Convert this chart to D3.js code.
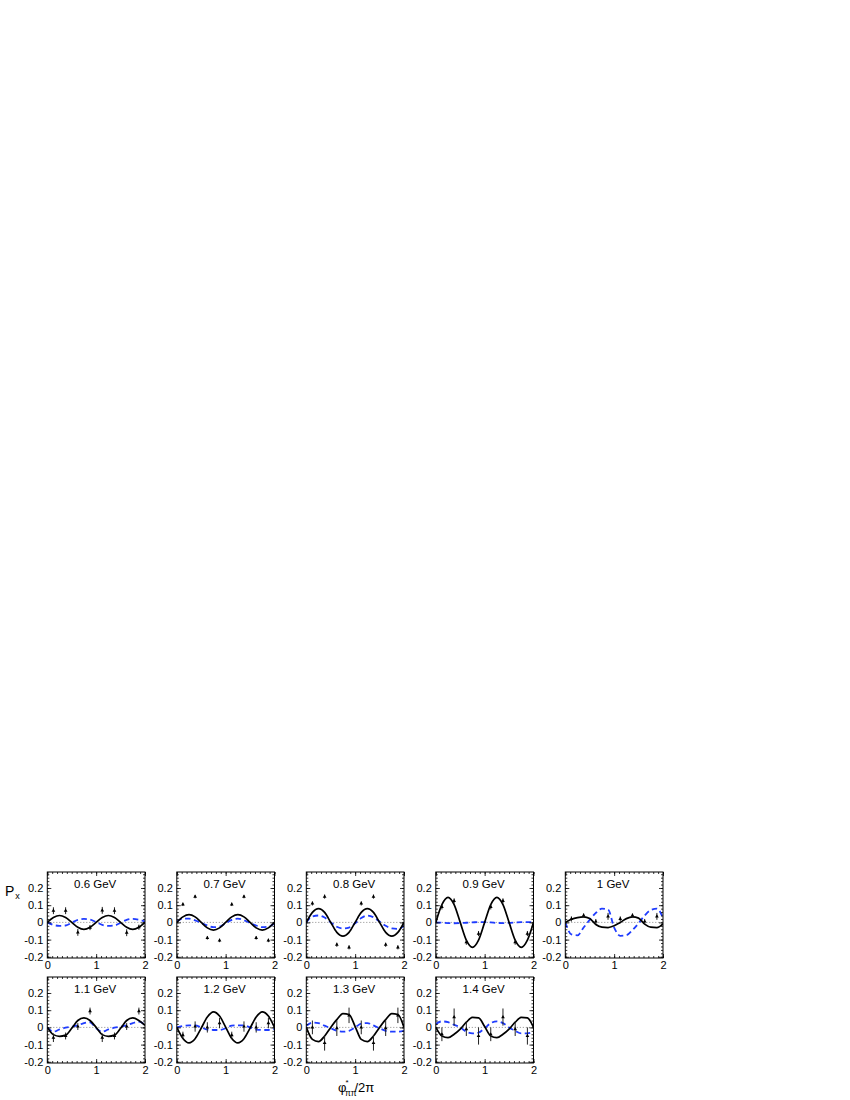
<!DOCTYPE html>
<html><head><meta charset="utf-8">
<script src="https://cdn.jsdelivr.net/npm/d3@7/dist/d3.min.js"></script>
<style>
body{margin:0;background:#fff}
svg{display:block}
text{font-family:"Liberation Sans",Arial,Helvetica,sans-serif;fill:#000}
</style>
</head><body>
<svg id="c" width="850" height="1100"></svg>
<script>
// ---------------- data ----------------
const energies = ["0.6 GeV","0.7 GeV","0.8 GeV","0.9 GeV","1 GeV","1.1 GeV","1.2 GeV","1.3 GeV","1.4 GeV"];
const phiPoints = [0.125,0.375,0.625,0.875,1.125,1.375,1.625,1.875];
const curveGrid = [0,0.125,0.25,0.375,0.5,0.625,0.75,0.875,1,1.125,1.25,1.375,1.5,1.625,1.75,1.875,2];
const xTicks = [0,1,2];
const yTicks = [-0.2,-0.1,0,0.1,0.2];
const yTickLabels = ["-0.2","-0.1","0","0.1","0.2"];

// measured Px values and errors
const px06 = [0.068,0.068,-0.058,-0.03,0.07,0.068,-0.06,-0.028];
const er06 = [0.02,0.02,0.02,0.015,0.02,0.02,0.02,0.015];
const px07 = [0.105,0.15,-0.09,-0.105,0.105,0.15,-0.09,-0.105];
const er07 = [0.01,0.01,0.01,0.01,0.01,0.01,0.01,0.01];
const px08 = [0.11,0.15,-0.13,-0.145,0.11,0.15,-0.13,-0.145];
const er08 = [0.012,0.012,0.012,0.012,0.012,0.012,0.012,0.012];
const px09 = [0.09,0.125,-0.115,-0.065,0.09,0.125,-0.115,-0.065];
const er09 = [0.015,0.015,0.015,0.015,0.015,0.015,0.015,0.015];
const px10 = [0.02,0.04,0.005,0.035,0.02,0.04,0.005,0.035];
const er10 = [0.015,0.012,0.015,0.02,0.015,0.012,0.015,0.02];
const px11 = [-0.06,-0.05,0.005,0.095,-0.06,-0.05,0.005,0.095];
const er11 = [0.025,0.02,0.02,0.02,0.025,0.02,0.02,0.02];
const px12 = [-0.045,0.005,0.0,0.025,-0.045,0.005,0.0,0.025];
const er12 = [0.02,0.03,0.03,0.03,0.02,0.03,0.03,0.03];
const px13 = [0.0,-0.09,-0.005,0.07,0.0,-0.09,-0.005,0.07];
const er13 = [0.04,0.045,0.045,0.045,0.04,0.045,0.045,0.045];
const px14 = [-0.04,0.06,-0.01,-0.05,-0.04,0.06,-0.01,-0.05];
const er14 = [0.04,0.05,0.04,0.05,0.04,0.05,0.04,0.05];

// full model (black solid) on curveGrid
const fit06 = [0,0.028,0.04,0.028,0,-0.028,-0.04,-0.028,0,0.028,0.04,0.028,0,-0.028,-0.04,-0.028,0];
const fit07 = [0,0.032,0.045,0.032,0,-0.032,-0.045,-0.032,0,0.032,0.045,0.032,0,-0.032,-0.045,-0.032,0];
const fit08 = [0,0.058,0.08,0.058,0,-0.058,-0.08,-0.058,0,0.058,0.08,0.058,0,-0.058,-0.08,-0.058,0];
const fit09 = [0,0.103,0.145,0.103,0,-0.103,-0.145,-0.103,0,0.103,0.145,0.103,0,-0.103,-0.145,-0.103,0];
const fit10 = [0,0.018,0.028,0.032,0.022,-0.012,-0.028,-0.03,-0.02,0.0,0.022,0.032,0.025,-0.01,-0.028,-0.03,-0.008];
const fit11 = [0,-0.042,-0.052,-0.045,-0.005,0.04,0.055,0.04,0.0,-0.042,-0.052,-0.045,-0.005,0.04,0.055,0.04,0.012];
const fit12 = [0,-0.064,-0.09,-0.066,-0.004,0.06,0.09,0.066,0.002,-0.064,-0.09,-0.066,-0.004,0.06,0.09,0.066,0];
const fit13 = [0,-0.07,-0.083,-0.05,0.0,0.045,0.08,0.075,0.005,-0.07,-0.083,-0.05,0.0,0.045,0.08,0.075,0];
const fit14 = [0,-0.05,-0.06,-0.04,-0.01,0.03,0.058,0.055,0.005,-0.05,-0.06,-0.04,-0.01,0.03,0.058,0.055,0];

// alternative model (blue dashed) on curveGrid
const alt06 = [0,-0.015,-0.02,-0.018,-0.002,0.015,0.02,0.016,0.002,-0.015,-0.02,-0.018,-0.002,0.015,0.02,0.016,0.006];
const alt07 = [0.005,0.022,0.022,0.012,-0.003,-0.018,-0.028,-0.025,-0.005,0.015,0.022,0.012,-0.003,-0.018,-0.028,-0.025,-0.005];
const alt08 = [0,0.035,0.04,0.028,0.0,-0.025,-0.035,-0.03,-0.005,0.025,0.04,0.03,0.005,-0.02,-0.035,-0.038,-0.02];
const alt09 = [0,-0.002,-0.004,-0.005,-0.004,-0.002,0.0,0.002,0.002,0.0,-0.003,-0.004,-0.003,-0.001,0.001,0.002,0.001];
const alt10 = [0,-0.07,-0.075,-0.03,0.015,0.055,0.08,0.075,-0.03,-0.078,-0.075,-0.045,-0.005,0.04,0.072,0.08,0.025];
const alt11 = [0,-0.025,-0.012,-0.002,0.004,0.012,0.025,0.03,-0.005,-0.025,-0.012,-0.002,0.004,0.012,0.025,0.033,0.015];
const alt12 = [0,0.008,0.012,0.012,0.0,-0.013,-0.015,-0.015,-0.005,0.01,0.012,0.012,0.0,-0.013,-0.015,-0.015,-0.01];
const alt13 = [0.01,0.028,0.025,0.01,-0.005,-0.02,-0.025,-0.02,0.0,0.022,0.025,0.012,-0.005,-0.02,-0.025,-0.025,-0.02];
const alt14 = [0.02,0.035,0.03,0.015,0.0,-0.025,-0.035,-0.03,-0.005,0.025,0.035,0.025,0.0,-0.02,-0.035,-0.035,-0.025];

const pxList  = [px06,px07,px08,px09,px10,px11,px12,px13,px14];
const erList  = [er06,er07,er08,er09,er10,er11,er12,er13,er14];
const fitList = [fit06,fit07,fit08,fit09,fit10,fit11,fit12,fit13,fit14];
const altList = [alt06,alt07,alt08,alt09,alt10,alt11,alt12,alt13,alt14];

// ---------------- layout ----------------
const svg = d3.select("#c");
const pw = 97.7, ph = 86;
const col0 = 47.3, colStep = 129.5;
const rowTops = [872, 977];
const blue = "#1f3cff";

const x = d3.scaleLinear().domain([0,2]).range([0,pw]);
const y = d3.scaleLinear().domain([-0.207,0.293]).range([ph,0]);
const tri = d3.symbol().type(d3.symbolTriangle).size(6);

energies.forEach((name,i)=>{
  const col = i % 5, row = Math.floor(i/5);
  const g = svg.append("g").attr("transform",`translate(${col0+col*colStep},${rowTops[row]})`);
  const clipId = "clip"+i;
  g.append("clipPath").attr("id",clipId).append("rect").attr("width",pw).attr("height",ph);

  // zero line
  g.append("line").attr("x1",0).attr("x2",pw).attr("y1",y(0)).attr("y2",y(0))
    .attr("stroke","#8a8a8a").attr("stroke-width",1).attr("stroke-dasharray","1,2");

  const line = d3.line().x((d,k)=>x(curveGrid[k])).y(d=>y(d)).curve(d3.curveMonotoneX);
  const cg = g.append("g").attr("clip-path",`url(#${clipId})`);
  cg.append("path").attr("d",line(altList[i])).attr("fill","none")
    .attr("stroke",blue).attr("stroke-width",1.8).attr("stroke-dasharray","5.5,3.5");
  cg.append("path").attr("d",line(fitList[i])).attr("fill","none")
    .attr("stroke","#000").attr("stroke-width",1.7);

  // data points
  const pts = phiPoints.map((p,k)=>({x:p,y:pxList[i][k],e:erList[i][k]}));
  g.selectAll("line.err").data(pts).enter().append("line").attr("class","err")
    .attr("x1",d=>x(d.x)).attr("x2",d=>x(d.x))
    .attr("y1",d=>y(d.y-d.e)).attr("y2",d=>y(d.y+d.e))
    .attr("stroke","#222").attr("stroke-width",1);
  g.selectAll("path.pt").data(pts).enter().append("path").attr("class","pt")
    .attr("transform",d=>`translate(${x(d.x)},${y(d.y)})`).attr("d",tri).attr("fill","#000");

  // axes: ticks inside on all four sides
  const minorY = d3.range(-0.2,0.285,0.02), minorX = d3.range(0,2.001,0.1);
  const axL = d3.axisLeft(y).tickValues(yTicks).tickSize(-4).tickFormat((d,k)=>yTickLabels[k]).tickPadding(4);
  const axLm = d3.axisLeft(y).tickValues(minorY).tickSize(-2).tickFormat("");
  const axR = d3.axisRight(y).tickValues(yTicks).tickSize(-4).tickFormat("");
  const axRm = d3.axisRight(y).tickValues(minorY).tickSize(-2).tickFormat("");
  const axB = d3.axisBottom(x).tickValues(xTicks).tickSize(-4).tickFormat(d3.format("d")).tickPadding(4);
  const axBm = d3.axisBottom(x).tickValues(minorX).tickSize(-2).tickFormat("");
  const axT = d3.axisTop(x).tickValues(xTicks).tickSize(-4).tickFormat("");
  const axTm = d3.axisTop(x).tickValues(minorX).tickSize(-2).tickFormat("");

  const put = (ax,tr)=>{
    const a = g.append("g").attr("transform",tr).call(ax);
    a.select(".domain").remove();
    a.selectAll("line").attr("stroke","#000").attr("stroke-width",0.8);
    a.selectAll("text").attr("font-size",11).attr("fill","#000");
    return a;
  };
  put(axLm,"translate(0,0)"); put(axL,"translate(0,0)");
  put(axRm,`translate(${pw},0)`); put(axR,`translate(${pw},0)`);
  put(axBm,`translate(0,${ph})`); const b = put(axB,`translate(0,${ph})`);
  put(axTm,"translate(0,0)"); put(axT,"translate(0,0)");
  b.selectAll("text").attr("dy","0.71em").attr("y",3);

  g.append("rect").attr("width",pw).attr("height",ph).attr("fill","none")
    .attr("stroke","#000").attr("stroke-width",1);

  g.append("text").attr("x",pw/2 - 1).attr("y",y(0.2)).attr("text-anchor","middle")
    .attr("font-size",11.5).text(name);
});

// y-axis label P_x
const pl = svg.append("text").attr("x",5).attr("y",896).attr("font-size",14);
pl.append("tspan").text("P");
pl.append("tspan").attr("font-size",9).attr("dy",3).attr("dx",1).text("x");

// x-axis title  φ*_ππ / 2π
const tx = 338, ty = 1092;
svg.append("text").attr("x",tx).attr("y",ty).attr("font-size",13).text("φ");
svg.append("text").attr("x",tx+7.5).attr("y",ty-7).attr("font-size",8).text("*");
svg.append("text").attr("x",tx+7).attr("y",ty+4).attr("font-size",8.5).text("ππ");
svg.append("text").attr("x",tx+16.5).attr("y",ty).attr("font-size",13).text("/2π");
</script>
</body></html>
